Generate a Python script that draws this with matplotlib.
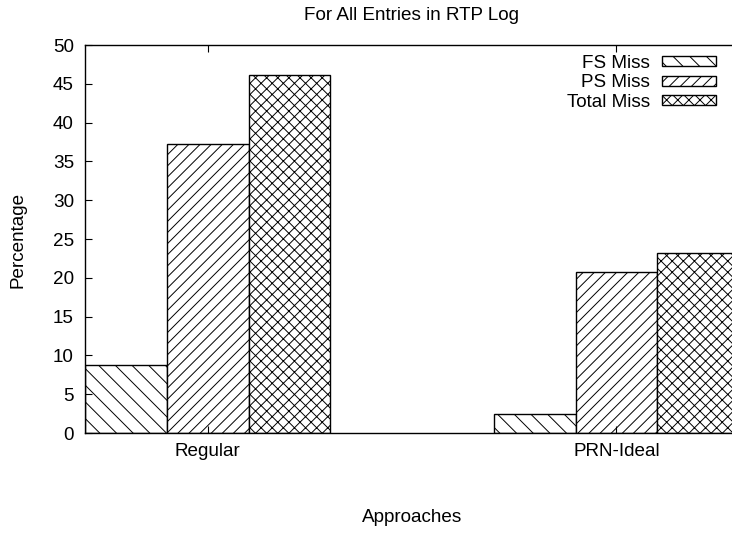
import numpy as np
import matplotlib
matplotlib.use("Agg")
import matplotlib.pyplot as plt

plt.rcParams["font.family"] = ["Liberation Sans", "DejaVu Sans"]
plt.rcParams["hatch.linewidth"] = 0.7

approaches = ["Regular", "PRN-Ideal"]
series = ["FS Miss", "PS Miss", "Total Miss"]
fs_miss = [8.8, 2.4]
ps_miss = [37.3, 20.8]
total_miss = [46.1, 23.2]
hatches = ["\\\\", "///", "xxx"]

FS = 13.6
W, H = 732, 533
fig = plt.figure(figsize=(W / 100, H / 100), dpi=100)
# axes box in pixels: left 85, right 739 (just past the image edge), top 45, bottom 433
ax = fig.add_axes([85 / W, (H - 433) / H, (739 - 85) / W, (433 - 45) / H])

x = np.arange(len(approaches))
width = 0.2
for i, (name, vals) in enumerate(zip(series, [fs_miss, ps_miss, total_miss])):
    ax.bar(x + (i - 1) * width, vals, width, label=name, color="white",
           edgecolor="black", linewidth=1.0, hatch=hatches[i])

ax.set_xlim(-0.3, 1.3)
ax.set_ylim(0, 50)
ax.set_yticks(np.arange(0, 51, 5))
ax.set_xticks(x)
ax.set_xticklabels(approaches)
ax.tick_params(direction="in", top=True, right=True, length=5, width=0.8,
               labelsize=FS)
ax.tick_params(axis="y", pad=8)
ax.tick_params(axis="x", pad=7.5)
for s in ax.spines.values():
    s.set_linewidth(1.0)

fig.text(412 / W, 1 - 15 / H, "For All Entries in RTP Log", ha="center",
         va="center", fontsize=FS)
fig.text(412 / W, 1 - 517 / H, "Approaches", ha="center", va="center",
         fontsize=FS)
fig.text(18 / W, 1 - 240 / H, "Percentage", ha="center", va="center",
         rotation=90, fontsize=FS)

ax.legend(loc="upper right", bbox_to_anchor=(716 / W, 1 - 55 / H),
          bbox_transform=fig.transFigure, frameon=False, markerfirst=False,
          fontsize=FS, handlelength=2.85, handleheight=0.45,
          labelspacing=0.13, handletextpad=0.65, borderpad=0, borderaxespad=0)

fig.savefig("out.png", dpi=100)
